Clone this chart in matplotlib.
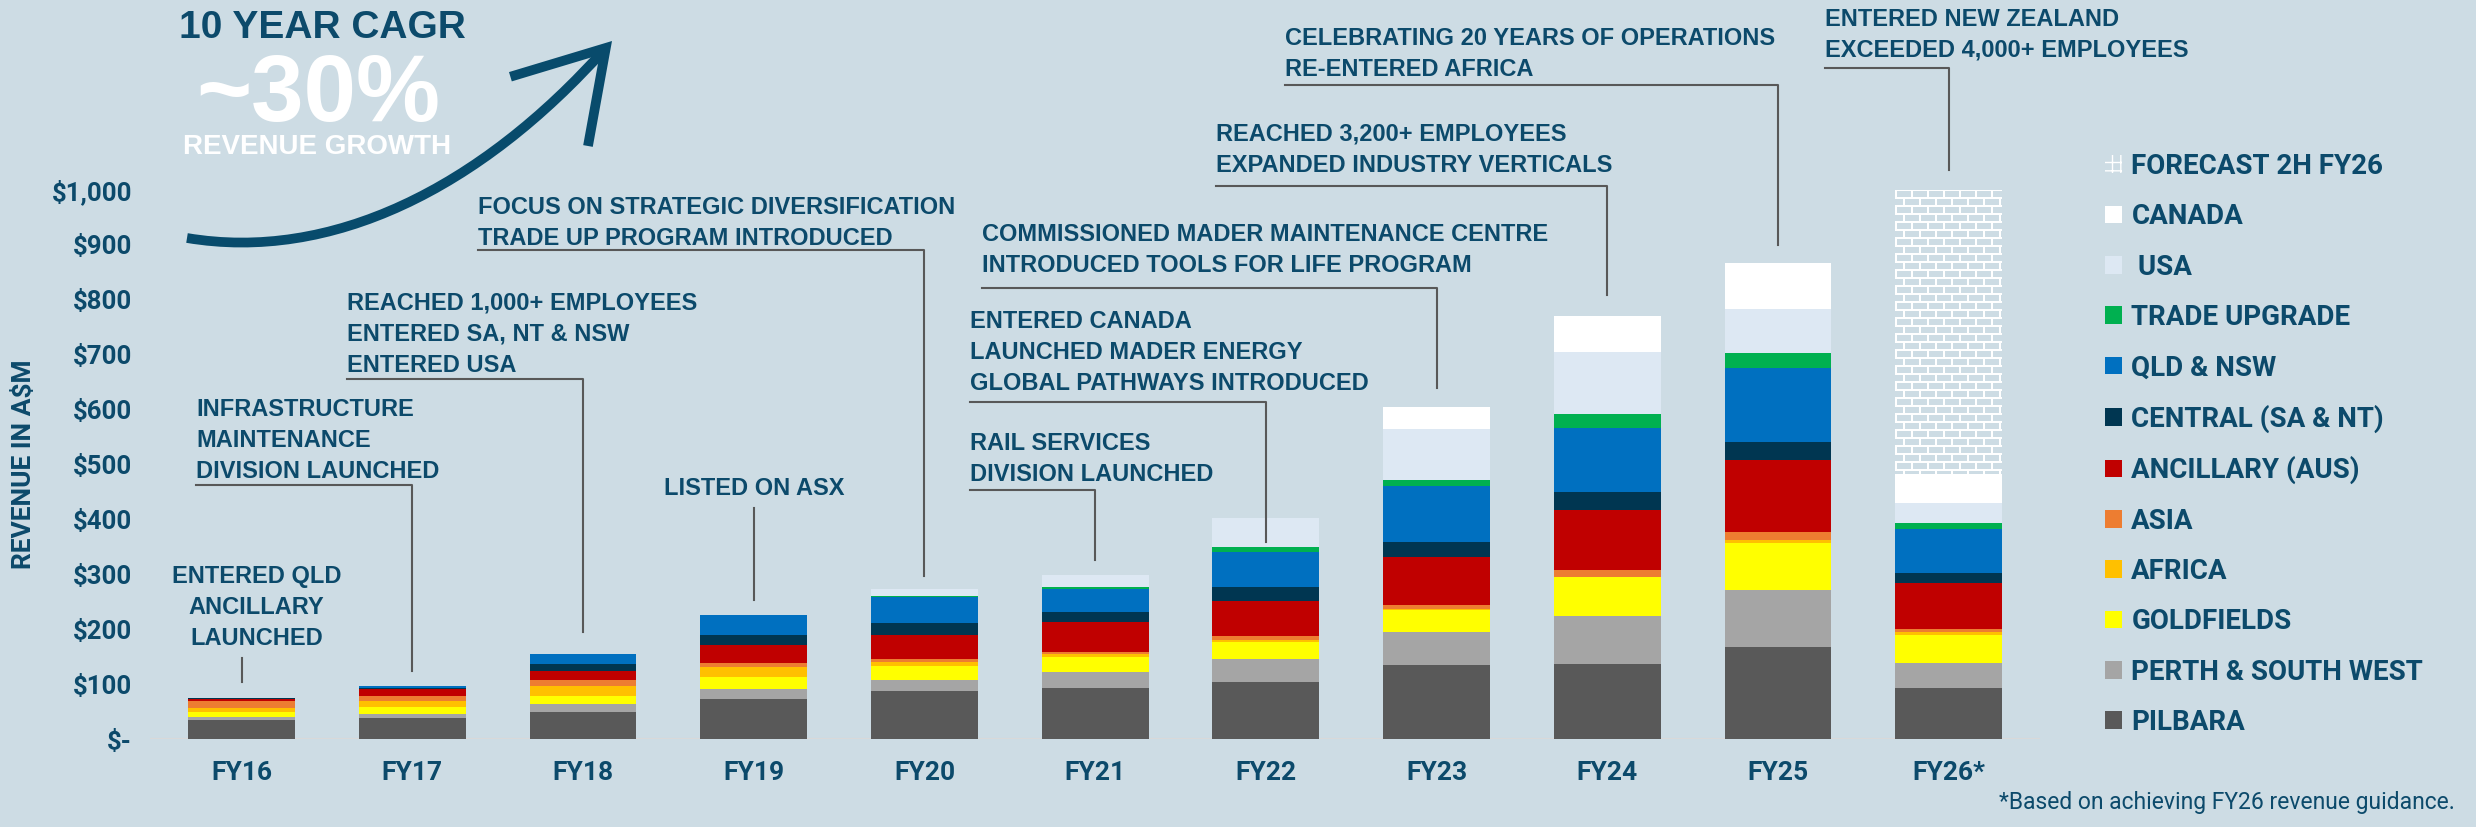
import numpy as np
import matplotlib.pyplot as plt
from matplotlib.patches import Patch, FancyArrowPatch
from matplotlib.lines import Line2D
from matplotlib.path import Path

W, H = 2476, 827
BG = '#cddce4'
NAVY = '#0c4a6b'
LEAD = '#585858'

plt.rcParams['font.family'] = ['Roboto', 'DejaVu Sans']
plt.rcParams['font.weight'] = 'bold'

# revenue by region, A$M, stacked bottom -> top
years = ['FY16', 'FY17', 'FY18', 'FY19', 'FY20', 'FY21', 'FY22', 'FY23', 'FY24', 'FY25', 'FY26*']
pilbara    = [34, 38, 50, 72, 87, 93, 104, 135, 137, 168, 93]
perth_sw   = [6, 7, 13, 19, 21, 29, 42, 60, 87, 104, 46]
goldfields = [9, 13, 16, 21, 25, 28, 31, 40, 70, 84, 50]
africa     = [7, 12, 18, 19, 7, 4, 4, 2, 1, 6, 5]
asia       = [13, 9, 10, 8, 5, 4, 7, 7, 13, 14, 7]
ancillary  = [4, 12, 17, 32, 45, 55, 64, 87, 108, 131, 83]
central    = [1, 2, 13, 19, 21, 18, 24, 28, 33, 33, 19]
qld_nsw    = [0, 3, 18, 36, 48, 42, 65, 101, 117, 136, 80]
trade_up   = [0, 0, 0, 0, 1, 4, 8, 12, 26, 27, 10]
usa        = [0, 0, 0, 0, 13, 22, 53, 92, 112, 80, 37]
canada     = [0, 0, 0, 0, 0, 0, 0, 40, 65, 84, 52]
forecast   = [0, 0, 0, 0, 0, 0, 0, 0, 0, 0, 518]

series_names = ['PILBARA', 'PERTH & SOUTH WEST', 'GOLDFIELDS', 'AFRICA', 'ASIA',
                'ANCILLARY (AUS)', 'CENTRAL (SA & NT)', 'QLD & NSW', 'TRADE UPGRADE',
                ' USA', 'CANADA']
series_vals = [pilbara, perth_sw, goldfields, africa, asia, ancillary, central,
               qld_nsw, trade_up, usa, canada]
series_cols = ['#595959', '#a5a5a5', '#ffff00', '#ffc000', '#ed7d31', '#c00000',
               '#003651', '#0070c0', '#00b050', '#dde8f3', '#ffffff']

ytick_vals = np.arange(0, 1001, 100)
ytick_labels = ['$-', '$100', '$200', '$300', '$400', '$500', '$600', '$700',
                '$800', '$900', '$1,000']

# milestone call-outs: text, left px, baseline of last line px, underline y px, bar, drop end y px
notes = [
    ("INFRASTRUCTURE\nMAINTENANCE\nDIVISION LAUNCHED", 196, 478, 485, 1, 671),
    ("REACHED 1,000+ EMPLOYEES\nENTERED SA, NT & NSW\nENTERED USA", 347, 372, 379, 2, 632),
    ("FOCUS ON STRATEGIC DIVERSIFICATION\nTRADE UP PROGRAM INTRODUCED", 478, 245, 250, 4, 576),
    ("RAIL SERVICES\nDIVISION LAUNCHED", 970, 481, 490, 5, 560),
    ("ENTERED CANADA\nLAUNCHED MADER ENERGY\nGLOBAL PATHWAYS INTRODUCED", 970, 390, 402, 6, 542),
    ("COMMISSIONED MADER MAINTENANCE CENTRE\nINTRODUCED TOOLS FOR LIFE PROGRAM", 982, 272, 288, 7, 388),
    ("REACHED 3,200+ EMPLOYEES\nEXPANDED INDUSTRY VERTICALS", 1216, 172, 186, 8, 295),
    ("CELEBRATING 20 YEARS OF OPERATIONS\nRE-ENTERED AFRICA", 1285, 76, 85, 9, 245),
    ("ENTERED NEW ZEALAND\nEXCEEDED 4,000+ EMPLOYEES", 1825, 57, 68, 10, 170),
]


def fx(x):
    return x / W


def fy(y):
    return 1 - y / H


fig = plt.figure(figsize=(W / 100, H / 100), dpi=100, facecolor=BG)
ax = fig.add_axes([fx(150), fy(739), 1890 / W, 549.5 / H])
ax.set_facecolor(BG)
ax.set_xlim(-0.537, 10.535)
ax.set_ylim(0, 1000)

x = np.arange(len(years))
bw = 0.626
bottom = np.zeros(len(years))
for name, vals, col in zip(series_names, series_vals, series_cols):
    ax.bar(x, vals, bw, bottom=bottom, color=col, linewidth=0, zorder=2)
    bottom += np.array(vals)

fc_bars = ax.bar(x, forecast, bw, bottom=bottom, color='white', linewidth=0, zorder=2)

# brick texture for the forecast part
for p in fc_bars.patches:
    if p.get_height() <= 0:
        continue
    x0, y0, w, h = p.get_x(), p.get_y(), p.get_width(), p.get_height()
    (px0, py0), (px1, py1) = ax.transData.transform([(x0, y0), (x0 + w, y0 + h)])
    nw, nh = int(round(px1 - px0)), int(round(py1 - py0))
    bg_rgb = np.array(plt.matplotlib.colors.to_rgb(BG))
    img = np.ones((nh, nw, 3))
    rr, cc = np.mgrid[0:nh, 0:nw]
    shift = np.where((rr // 8) % 2 == 0, 0, 8)
    brick = (rr % 8 >= 2) & (((cc + shift) % 16) >= 2)
    img[brick] = bg_rgb
    ax.imshow(img, extent=(x0, x0 + w, y0, y0 + h), aspect='auto',
              interpolation='nearest', zorder=3)
ax.set_xlim(-0.537, 10.535)
ax.set_ylim(0, 1000)

ax.axhline(0, color='#d9d9d9', lw=2.2, zorder=1)
for s in ax.spines.values():
    s.set_visible(False)

ax.set_xticks(x, years)
ax.set_yticks(ytick_vals, ytick_labels)
ax.tick_params(axis='x', length=0, pad=16, labelsize=19, labelcolor=NAVY)
ax.tick_params(axis='y', length=0, pad=13, labelsize=18.5, labelcolor=NAVY)

fig.text(fx(24), fy(464), 'REVENUE IN A$M', rotation=90, ha='center', va='center',
         fontsize=19, color=NAVY)

# call-outs with elbow leader lines
for txt, xl, base, yu, i, yd in notes:
    fig.text(fx(xl), fy(base), txt, ha='left', va='baseline', fontsize=17,
             family='Liberation Sans', weight='bold', color=NAVY, linespacing=1.45)
    xc = ax.transData.transform((i, 0))[0]
    fig.add_artist(Line2D([fx(xl), fx(xc), fx(xc)], [fy(yu), fy(yu), fy(yd)],
                          color=LEAD, lw=1.5))

for txt, base, i, ya, yb, dx in [("ENTERED QLD\nANCILLARY\nLAUNCHED", 645, 0, 658, 682, 15),
                                 ("LISTED ON ASX", 495, 3, 508, 600, 0)]:
    xc = ax.transData.transform((i, 0))[0]
    fig.text(fx(xc + dx), fy(base), txt, ha='center', va='baseline', fontsize=17,
             family='Liberation Sans', weight='bold', color=NAVY, linespacing=1.45,
             multialignment='center')
    fig.add_artist(Line2D([fx(xc), fx(xc)], [fy(ya), fy(yb)], color=LEAD, lw=1.5))

# headline
fig.text(fx(322), fy(38), '10 YEAR CAGR', ha='center', va='baseline', fontsize=28,
         family='Liberation Sans', weight='bold', color=NAVY)
fig.text(fx(318), fy(121), '~30%', ha='center', va='baseline', fontsize=68,
         family='Liberation Sans', weight='bold', color='white')
fig.text(fx(317), fy(154), 'REVENUE GROWTH', ha='center', va='baseline', fontsize=20,
         family='Liberation Sans', weight='bold', color='white')

verts = [(187, 238), (330, 262), (479, 190), (612, 41)]
arrow_path = Path([(fx(a), fy(b)) for a, b in verts],
                  [Path.MOVETO, Path.CURVE4, Path.CURVE4, Path.CURVE4])
fig.add_artist(FancyArrowPatch(path=arrow_path, transform=fig.transFigure,
                               arrowstyle='->,head_length=0.85,head_width=0.52',
                               mutation_scale=72, lw=7, color='#084b6c',
                               capstyle='butt', joinstyle='miter'))

# legend, top entry first
handles = [Patch(facecolor=BG, edgecolor='white', hatch='++', lw=0)]
labels = ['FORECAST 2H FY26']
for name, col in zip(series_names[::-1], series_cols[::-1]):
    handles.append(Patch(facecolor=col, lw=0))
    labels.append(name)
ax.legend(handles, labels, loc='upper left', bbox_to_anchor=(fx(2105), fy(153)),
          bbox_transform=fig.transFigure, frameon=False, fontsize=20,
          handlelength=0.6, handleheight=0.6, handletextpad=0.35,
          labelspacing=0.84, borderpad=0, borderaxespad=0, labelcolor=NAVY)

fig.text(fx(2455), fy(809), '*Based on achieving FY26 revenue guidance.', ha='right',
         va='baseline', fontsize=16.5, weight='normal', color=NAVY)

fig.savefig('out.png', dpi=100, facecolor=BG)
